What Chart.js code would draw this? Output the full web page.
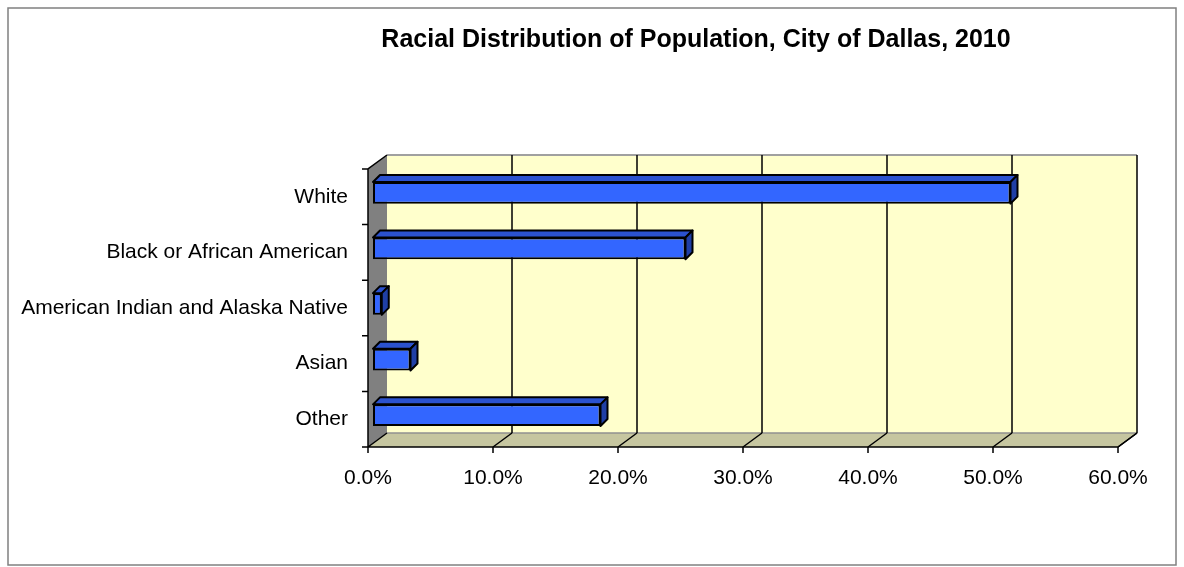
<!DOCTYPE html>
<html>
<head>
<meta charset="utf-8">
<title>Racial Distribution of Population, City of Dallas, 2010</title>
<script src="https://cdn.jsdelivr.net/npm/chart.js@4/dist/chart.umd.min.js"></script>
<style>
    html, body { margin: 0; padding: 0; background: #ffffff; }
    canvas { display: block; }
</style>
</head>
<body>
<canvas id="chart" width="1184" height="567"></canvas>
<script>
// Data
const categories = ['White', 'Black or African American', 'American Indian and Alaska Native', 'Asian', 'Other'];
const shares = [51.0, 25.0, 0.7, 3.0, 18.2]; // percent of population
const axisTicks = [0, 10, 20, 30, 40, 50, 60];
const chartTitle = 'Racial Distribution of Population, City of Dallas, 2010';

// Excel-style 3D look
const depth = { dx: 19, dy: -14 };      // back wall offset from front plane
const barShift = { dx: 5, dy: -4 };     // bar front face sits a bit inside
const barDepth = { dx: 7, dy: -7 };     // bar thickness in depth
const fontFamily = '"Liberation Sans", Arial, sans-serif';

const excel3d = {
    id: 'excel3d',
    beforeDraw(chart) {
        const ctx = chart.ctx;
        ctx.save();
        ctx.fillStyle = '#ffffff';
        ctx.fillRect(0, 0, chart.width, chart.height);
        ctx.strokeStyle = '#808080';
        ctx.lineWidth = 1.5;
        ctx.strokeRect(8, 8, chart.width - 16, chart.height - 10);
        // title: Excel centres it off the plot, so it is placed by hand
        ctx.fillStyle = '#000000';
        ctx.font = 'bold 25px ' + fontFamily;
        ctx.textAlign = 'center';
        ctx.textBaseline = 'alphabetic';
        ctx.fillText(chartTitle, 696, 47);
        ctx.restore();
    },
    beforeDatasetsDraw(chart) {
        const ctx = chart.ctx;
        const { left, right, top, bottom } = chart.chartArea;
        const x = chart.scales.x;
        const y = chart.scales.y;
        const { dx, dy } = depth;

        ctx.save();
        // back wall
        ctx.fillStyle = '#FFFFCC';
        ctx.fillRect(left + dx, top + dy, right - left, bottom - top);
        ctx.strokeStyle = '#A0A0A0';
        ctx.lineWidth = 2;
        ctx.beginPath();
        ctx.moveTo(left + dx, top + dy);
        ctx.lineTo(right + dx, top + dy);
        ctx.stroke();

        // floor
        ctx.fillStyle = '#C6C6A0';
        ctx.beginPath();
        ctx.moveTo(left, bottom);
        ctx.lineTo(left + dx, bottom + dy);
        ctx.lineTo(right + dx, bottom + dy);
        ctx.lineTo(right, bottom);
        ctx.closePath();
        ctx.fill();
        ctx.strokeStyle = '#909090';
        ctx.lineWidth = 1.5;
        ctx.beginPath();
        ctx.moveTo(left + dx, bottom + dy);
        ctx.lineTo(right + dx, bottom + dy);
        ctx.stroke();

        // left wall
        ctx.fillStyle = '#808080';
        ctx.beginPath();
        ctx.moveTo(left, top);
        ctx.lineTo(left + dx, top + dy);
        ctx.lineTo(left + dx, bottom + dy);
        ctx.lineTo(left, bottom);
        ctx.closePath();
        ctx.fill();

        // value gridlines on back wall + floor, tick marks
        ctx.strokeStyle = '#000000';
        ctx.lineWidth = 1.5;
        x.ticks.forEach(t => {
            const px = x.getPixelForValue(t.value);
            ctx.beginPath();
            if (t.value > 0) {
                ctx.moveTo(px + dx, top + dy);
                ctx.lineTo(px + dx, bottom + dy);
                ctx.moveTo(px, bottom);
                ctx.lineTo(px + dx, bottom + dy);
            }
            ctx.moveTo(px, bottom);
            ctx.lineTo(px, bottom + 6);
            ctx.stroke();
        });

        // left wall outline + category ticks
        ctx.beginPath();
        ctx.moveTo(left, bottom);
        ctx.lineTo(left, top);
        ctx.lineTo(left + dx, top + dy);
        ctx.moveTo(left, bottom);
        ctx.lineTo(left + dx, bottom + dy);
        ctx.moveTo(left, bottom);
        ctx.lineTo(right, bottom);
        ctx.lineTo(right + dx, bottom + dy);
        for (let i = 0; i <= categories.length; i++) {
            const py = y.getPixelForValue(i - 0.5);
            ctx.moveTo(left - 6, py);
            ctx.lineTo(left, py);
        }
        ctx.stroke();
        ctx.restore();
    },
    beforeDatasetDraw(chart, args) {
        const ctx = chart.ctx;
        ctx.save();
        ctx.translate(barShift.dx, barShift.dy);
        const { dx, dy } = barDepth;
        ctx.strokeStyle = '#000000';
        ctx.lineWidth = 2;
        ctx.lineJoin = 'round';
        args.meta.data.forEach(bar => {
            const p = bar.getProps(['x', 'y', 'base', 'height'], true);
            const t = p.y - p.height / 2;
            const b = p.y + p.height / 2;
            // top face
            ctx.fillStyle = '#2B52CF';
            ctx.beginPath();
            ctx.moveTo(p.base, t);
            ctx.lineTo(p.base + dx, t + dy);
            ctx.lineTo(p.x + dx, t + dy);
            ctx.lineTo(p.x, t);
            ctx.closePath();
            ctx.fill();
            ctx.stroke();
            // end face
            ctx.fillStyle = '#1F3FA6';
            ctx.beginPath();
            ctx.moveTo(p.x, t);
            ctx.lineTo(p.x + dx, t + dy);
            ctx.lineTo(p.x + dx, b + dy);
            ctx.lineTo(p.x, b);
            ctx.closePath();
            ctx.fill();
            ctx.stroke();
        });
    },
    afterDatasetDraw(chart) {
        chart.ctx.restore();
    }
};

new Chart(document.getElementById('chart'), {
    type: 'bar',
    data: {
        labels: categories,
        datasets: [{
            label: 'Share of population',
            data: shares,
            backgroundColor: '#3366FF',
            borderColor: '#000000',
            borderWidth: 2,
            borderSkipped: false,
            barPercentage: 0.39,
            categoryPercentage: 1
        }]
    },
    options: {
        indexAxis: 'y',
        responsive: false,
        animation: false,
        devicePixelRatio: 1,
        layout: { padding: { left: 0, right: 66, top: 169, bottom: 60 } },
        plugins: {
            legend: { display: false },
            tooltip: { enabled: false },
            title: { display: false }
        },
        scales: {
            x: {
                type: 'linear',
                min: 0,
                max: 60,
                afterBuildTicks: scale => { scale.ticks = axisTicks.map(v => ({ value: v })); },
                afterFit: scale => { scale.height = 60; },
                grid: { display: false, drawTicks: false },
                border: { display: false },
                ticks: {
                    color: '#000000',
                    padding: 19,
                    maxRotation: 0,
                    font: { family: fontFamily, size: 21 },
                    callback: value => value.toFixed(1) + '%'
                }
            },
            y: {
                afterFit: scale => { scale.width = 368; },
                grid: { display: false, drawTicks: false },
                border: { display: false },
                ticks: {
                    color: '#000000',
                    padding: 20,
                    font: { family: fontFamily, size: 21 }
                }
            }
        }
    },
    plugins: [excel3d]
});
</script>
</body>
</html>
